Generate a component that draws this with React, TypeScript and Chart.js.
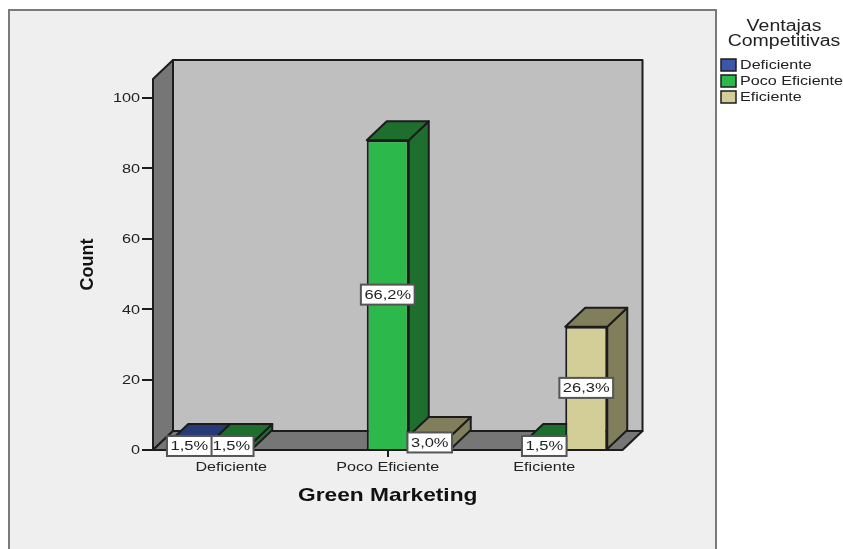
import React, { useEffect, useRef } from "react";
import { Chart, registerables } from "chart.js";

Chart.register(...registerables);

const categories = ["Deficiente", "Poco Eficiente", "Eficiente"];
const legendTitle = ["Ventajas", "Competitivas"];
const seriesNames = ["Deficiente", "Poco Eficiente", "Eficiente"];
const deficienteCounts = [2, null, null];
const pocoEficienteCounts = [2, 88, 2];
const eficienteCounts = [null, 4, 35];
const seriesColors = ["#3D57A8", "#2DB84B", "#D3CE97"];
const seriesShades = ["#263A78", "#1E6E2E", "#817E5C"];

const FONT = '"Liberation Sans", sans-serif';
const INK = "#1c1c1c";
const DX = 20;
const DY = -19;
// Horizontal text widening used for every unrotated label
const WIDEN = 1.25;

function poly(ctx: CanvasRenderingContext2D, pts: number[][], fill: string, stroke = INK, lw = 2) {
  ctx.beginPath();
  pts.forEach(([x, y], i) => (i ? ctx.lineTo(x, y) : ctx.moveTo(x, y)));
  ctx.closePath();
  ctx.fillStyle = fill;
  ctx.fill();
  ctx.lineWidth = lw;
  ctx.strokeStyle = stroke;
  ctx.lineJoin = "round";
  ctx.stroke();
}

const totalCount = [deficienteCounts, pocoEficienteCounts, eficienteCounts]
  .flat()
  .reduce((a: number, b) => a + (b ?? 0), 0);

const percentLabel = (v: number) => ((v / totalCount) * 100).toFixed(1).replace(".", ",") + "%";

// Panel background and the box-shaped plot: side wall, floor, back wall
const panelPlugin = {
  id: "panel",
  beforeDraw(chart: Chart) {
    const ctx = chart.ctx;
    ctx.save();
    ctx.fillStyle = "#ffffff";
    ctx.fillRect(0, 0, chart.width, chart.height);
    ctx.fillStyle = "#efefef";
    ctx.fillRect(9, 10, 707, 560);
    ctx.strokeStyle = "#7a7a7a";
    ctx.lineWidth = 2;
    ctx.strokeRect(9, 10, 707, 560);
    ctx.restore();
  },
  beforeDatasetsDraw(chart: Chart) {
    const ctx = chart.ctx;
    const { left, right, top, bottom } = chart.chartArea;
    ctx.save();
    poly(ctx, [[left + DX, top + DY], [right + DX, top + DY], [right + DX, bottom + DY], [left + DX, bottom + DY]], "#bfbfbf");
    poly(ctx, [[left, bottom], [left, top], [left + DX, top + DY], [left + DX, bottom + DY]], "#767676");
    poly(ctx, [[left, bottom], [left + DX, bottom + DY], [right + DX, bottom + DY], [right, bottom]], "#767676");

    // Side and top faces of every bar, left to right; the fronts are drawn by the library afterwards
    categories.forEach((_, j) => {
      chart.data.datasets.forEach((ds, i) => {
        if (ds.data[j] == null) return;
        const b = chart.getDatasetMeta(i).data[j] as any;
        const xl = b.x - b.width / 2;
        const xr = b.x + b.width / 2;
        const shade = seriesShades[i];
        poly(ctx, [[xr, b.y], [xr + DX, b.y + DY], [xr + DX, b.base + DY], [xr, b.base]], shade);
        poly(ctx, [[xl, b.y], [xl + DX, b.y + DY], [xr + DX, b.y + DY], [xr, b.y]], shade);
      });
    });
    ctx.restore();
  },
  afterDatasetsDraw(chart: Chart) {
    const ctx = chart.ctx;
    ctx.save();
    ctx.font = `13.2px ${FONT}`;
    ctx.textAlign = "center";
    ctx.textBaseline = "middle";
    // Percent tags, last series first so the earlier tags sit on top
    [...chart.data.datasets.keys()].reverse().forEach((i) => {
      chart.data.datasets[i].data.forEach((v, j) => {
        if (v == null) return;
        const b = chart.getDatasetMeta(i).data[j] as any;
        const text = percentLabel(v as number);
        const w = ctx.measureText(text).width * WIDEN + 7;
        const cy = (b.y + b.base) / 2;
        ctx.fillStyle = "#ffffff";
        ctx.fillRect(b.x - w / 2, cy - 10, w, 20);
        ctx.strokeStyle = "#555555";
        ctx.lineWidth = 2;
        ctx.strokeRect(b.x - w / 2, cy - 10, w, 20);
        ctx.fillStyle = "#222222";
        ctx.fillText(text, b.x, cy);
      });
    });

    // Legend column beside the panel
    ctx.fillStyle = "#222222";
    ctx.font = `15.6px ${FONT}`;
    legendTitle.forEach((t, k) => ctx.fillText(t, 784, 25.5 + k * 15.5));
    ctx.textAlign = "left";
    ctx.font = `12.9px ${FONT}`;
    seriesNames.forEach((name, k) => {
      const y = 65 + k * 16;
      ctx.fillStyle = seriesColors[k];
      ctx.fillRect(721, y - 6, 15, 12);
      ctx.strokeStyle = INK;
      ctx.lineWidth = 1.5;
      ctx.strokeRect(721, y - 6, 15, 12);
      ctx.fillStyle = "#222222";
      ctx.fillText(name, 740, y);
    });
    ctx.restore();
  },
};

export default function App() {
  const ref = useRef<HTMLCanvasElement>(null);

  useEffect(() => {
    const canvas = ref.current!;
    const context = canvas.getContext("2d")!;
    const plainFillText = context.fillText.bind(context);
    context.fillText = (text: string, x: number, y: number) => {
      if (context.getTransform().b !== 0) {
        plainFillText(text, x, y);
        return;
      }
      context.save();
      context.translate(x, y + 0.8);
      context.scale(WIDEN, 1);
      plainFillText(text, 0, 0);
      context.restore();
    };

    const series = [deficienteCounts, pocoEficienteCounts, eficienteCounts];
    const chart = new Chart(canvas, {
      type: "bar",
      data: {
        labels: categories,
        datasets: series.map((data, i) => ({
          label: seriesNames[i],
          data,
          backgroundColor: seriesColors[i],
          borderColor: INK,
          borderWidth: 2,
          categoryPercentage: 0.805,
          barPercentage: 1,
        })),
      },
      options: {
        responsive: false,
        animation: false,
        layout: { padding: { left: 77, right: 220.5, top: 79, bottom: 43 } },
        plugins: { legend: { display: false }, tooltip: { enabled: false } },
        scales: {
          x: {
            grid: { display: true, offset: false, drawOnChartArea: false, drawTicks: true, tickLength: 7, color: INK, lineWidth: 2 },
            border: { display: false },
            ticks: { color: "#222222", font: { family: FONT, size: 12.9 }, padding: 2, maxRotation: 0 },
            title: {
              display: true,
              text: "Green Marketing",
              color: "#111111",
              font: { family: FONT, size: 18.2, weight: "bold" },
              padding: 0,
            },
            afterFit(scale: any) {
              scale.height = 56;
            },
          },
          y: {
            min: 0,
            max: 105.4,
            grid: { display: true, drawOnChartArea: false, drawTicks: true, tickLength: 11, color: INK, lineWidth: 2 },
            border: { display: false },
            ticks: {
              stepSize: 20,
              includeBounds: false,
              color: "#222222",
              font: { family: FONT, size: 13 },
              padding: 2,
            },
            title: {
              display: true,
              text: "Count",
              color: "#111111",
              font: { family: FONT, size: 18, weight: "bold" },
              padding: 0,
            },
            afterFit(scale: any) {
              scale.width = 76;
            },
          },
        },
      },
      plugins: [panelPlugin],
    } as any);
    return () => {
      chart.destroy();
      delete (context as any).fillText;
    };
  }, []);

  return (
    <div style={{ position: "absolute", left: 0, top: 0, width: 843, height: 549, overflow: "hidden" }}>
      <canvas ref={ref} width={843} height={549} style={{ display: "block" }} />
    </div>
  );
}
